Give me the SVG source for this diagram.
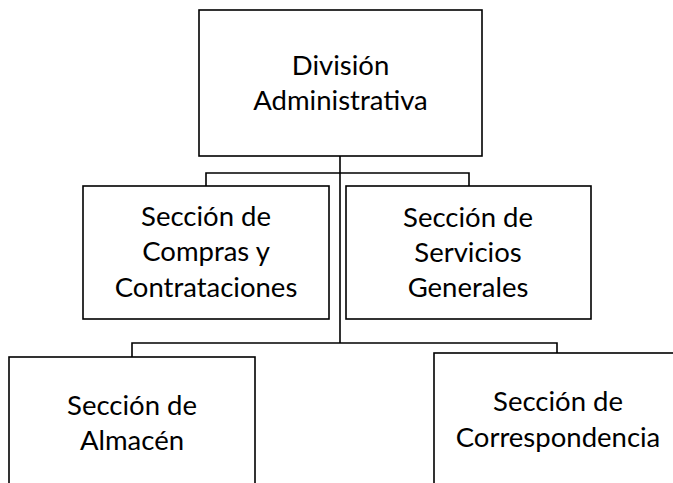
<svg xmlns="http://www.w3.org/2000/svg" width="673" height="483" viewBox="0 0 673 483">
<style>
.box{fill:#fff;stroke:#000;stroke-width:1.6}
.ln{fill:none;stroke:#000;stroke-width:1.6}
text{font-family:Lato,"Noto Sans",sans-serif;font-size:27.5px;fill:#000;text-anchor:middle}
</style>
<rect width="673" height="483" fill="#fff"/>
<g id="connectors">
<path class="ln" d="M340,156 V343 M206,186 V173 H469 V186 M132,357 V343 H557 V353"/>
</g>
<g id="division">
<rect class="box" x="199" y="10" width="283" height="146"/>
<text x="340.5" y="75">División</text>
<text x="340.5" y="110">Administrativa</text>
</g>
<g id="compras">
<rect class="box" x="83" y="186" width="246" height="133"/>
<text x="206" y="226">Sección de</text>
<text x="206" y="261">Compras y</text>
<text x="206" y="297">Contrataciones</text>
</g>
<g id="servicios">
<rect class="box" x="346" y="186" width="245" height="133"/>
<text x="468" y="227">Sección de</text>
<text x="468" y="262">Servicios</text>
<text x="468" y="297">Generales</text>
</g>
<g id="almacen">
<rect class="box" x="9" y="357" width="246" height="140"/>
<text x="132" y="415">Sección de</text>
<text x="132" y="450">Almacén</text>
</g>
<g id="correspondencia">
<rect class="box" x="434" y="353" width="248" height="140"/>
<text x="558" y="411">Sección de</text>
<text x="558" y="447">Correspondencia</text>
</g>
</svg>
